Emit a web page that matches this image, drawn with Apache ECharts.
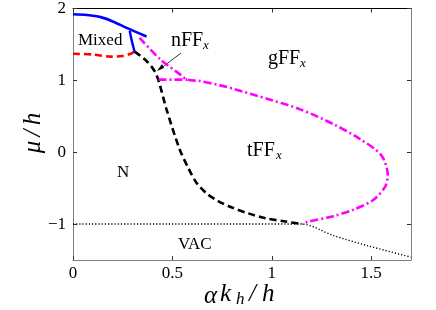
<!DOCTYPE html>
<html><head><meta charset="utf-8">
<script src="https://cdn.jsdelivr.net/npm/echarts@6/dist/echarts.min.js"></script>
<style>html,body{margin:0;padding:0;background:#fff}#c{width:436px;height:310px}</style>
</head><body><div id="c"></div>
<script>
// ---- data ----
var xTicks = [0, 0.5, 1, 1.5];
var yTicks = [-1, 0, 1, 2];
var blueX = [0, 0.07, 0.14, 0.2, 0.27, 0.37];
var blueY = [1.92, 1.91, 1.88, 1.82, 1.73, 1.61];
var blue2X = [0.285, 0.295, 0.303, 0.31];
var blue2Y = [1.69, 1.56, 1.47, 1.39];
var redX = [0, 0.1, 0.19, 0.25, 0.29, 0.31];
var redY = [1.37, 1.36, 1.33, 1.34, 1.37, 1.40];
var blackX = [0.31, 0.37, 0.41, 0.43, 0.47, 0.535, 0.58, 0.62, 0.67, 0.73, 0.80, 0.88, 0.97, 1.06, 1.15];
var blackY = [1.40, 1.27, 1.13, 1.0, 0.6, 0.05, -0.22, -0.42, -0.57, -0.68, -0.77, -0.85, -0.92, -0.96, -1.0];
var magX = [0.335, 0.44, 0.54, 0.575, 0.64, 0.74, 0.81, 0.98, 1.14, 1.31, 1.44, 1.55, 1.583, 1.57, 1.51, 1.41, 1.31, 1.18, 1.15];
var magY = [1.59, 1.29, 1.08, 1.01, 0.99, 0.93, 0.88, 0.74, 0.60, 0.39, 0.19, -0.04, -0.32, -0.48, -0.665, -0.80, -0.89, -0.97, -1.0];
var mag2X = [0.43, 0.575];
var mag2Y = [1.01, 1.01];
var dotX = [0, 1.15, 1.31, 1.48, 1.7];
var dotY = [-1, -1, -1.16, -1.30, -1.46];

function pairs(xs, ys) { return xs.map(function (x, i) { return [x, ys[i]]; }); }

var SERIF = '"Liberation Serif", "DejaVu Serif", serif';
var chart = echarts.init(document.getElementById('c'));
function axisCommon(pos, lineColor, ticks, showLabel, fmt, margin) {
  return {
    type: 'value', position: pos,
    axisLine: { show: true, onZero: false, lineStyle: { color: lineColor, width: 1 } },
    axisTick: { show: true, inside: true, length: 4, lineStyle: { color: '#333' }, customValues: ticks },
    axisLabel: { show: showLabel, customValues: ticks, formatter: fmt, fontFamily: SERIF, fontSize: 17, color: '#000', margin: margin },
    splitLine: { show: false }
  };
}
var xFmt = function (v) { return String(v); };
var yFmt = function (v) { return v < 0 ? '\u2212' + (-v) : String(v); };

var xb = axisCommon('bottom', '#808080', xTicks, true, xFmt, 5); xb.min = 0; xb.max = 1.7;
var xt = axisCommon('top', '#000', xTicks, false, xFmt, 5); xt.min = 0; xt.max = 1.7;
var yl = axisCommon('left', '#808080', yTicks, true, yFmt, 7); yl.min = -1.5; yl.max = 2;
var yr = axisCommon('right', '#808080', yTicks, false, yFmt, 7); yr.min = -1.5; yr.max = 2;

function line(xs, ys, color, type, width, smooth) {
  return {
    type: 'line', xAxisIndex: 0, yAxisIndex: 0, data: pairs(xs, ys), showSymbol: false, symbol: 'none',
    smooth: smooth, animation: false,
    lineStyle: { color: color, type: type, width: width, cap: 'butt' }
  };
}

function txt(x, y, s, size, style, align, rot) {
  return { type: 'text', x: x, y: y, rotation: rot || 0, style: { text: s, fontFamily: SERIF, fontSize: size, fontStyle: style || 'normal', fill: '#000', align: align || 'left', verticalAlign: 'middle' } };
}
var R = Math.PI / 2;

chart.setOption({
  animation: false,
  grid: { left: 73, top: 8, width: 338, height: 252, containLabel: false },
  xAxis: [xb, xt],
  yAxis: [yl, yr],
  series: [
    line(dotX, dotY, '#000', [1.2, 2], 1.4, 0.3),
    line(blackX, blackY, '#000', [7, 4], 2.6, 0.3),
    line(magX, magY, '#ff00ff', [8, 3, 2, 3], 2.6, 0.3),
    line(mag2X, mag2Y, '#ff00ff', [8, 3, 2, 3], 2.6, 0),
    line(redX, redY, '#ff0000', [7, 4], 2.6, 0.3),
    line(blueX, blueY, '#0000ff', 'solid', 2.6, 0.3),
    line(blue2X, blue2Y, '#0000ff', 'solid', 2.4, 0.3)
  ],
  graphic: [
    txt(78, 41, 'Mixed', 17),
    txt(171, 41, 'nFF', 20), txt(203, 46, 'x', 13, 'italic'),
    txt(268, 59, 'gFF', 20), txt(300, 64, 'x', 13, 'italic'),
    txt(247, 151, 'tFF', 20), txt(276, 156, 'x', 13, 'italic'),
    txt(117, 173, 'N', 17),
    txt(178, 245, 'VAC', 17),
    { type: 'line', shape: { x1: 181, y1: 53, x2: 160, y2: 69 }, style: { stroke: '#000', lineWidth: 0.8 } },
    { type: 'polygon', shape: { points: [[157, 71], [162, 64], [164, 68]] }, style: { fill: '#000' } },
    // y axis name  mu / h  (rotated)
    txt(33, 147, '\u03bc', 25, 'italic', 'center', R),
    txt(33, 133, '/', 25, 'italic', 'center', R),
    txt(33, 119, 'h', 25, 'italic', 'center', R),
    // x axis name  alpha k_h / h
    txt(204, 296, '\u03b1', 25, 'italic'),
    txt(220, 294, 'k', 25, 'italic'),
    txt(236, 300, 'h', 17, 'italic'),
    txt(249, 294, '/', 25, 'italic'),
    txt(262, 294, 'h', 25, 'italic')
  ]
});
</script></body></html>
